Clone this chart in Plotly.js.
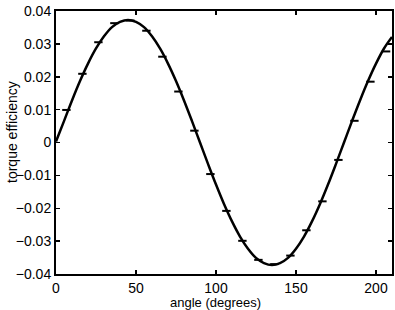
<!DOCTYPE html>
<html>
<head>
<meta charset="utf-8">
<script src="https://cdn.plot.ly/plotly-3.0.1.min.js"></script>
<style>html,body{margin:0;padding:0;background:#fff;}#chart{width:395px;height:310px;}</style>
</head>
<body>
<div id="chart"></div>
<script>
// measured points (angle in degrees, torque efficiency)
const pointAngles = [6.5, 16.5, 26.5, 36.5, 46.5, 56.5, 66.5, 76.5, 86.5, 96.5, 106.5,
                     116.5, 126.5, 136.5, 146.5, 156.5, 166.5, 176.5, 186.5, 196.5, 206.3];
const pointValues = [0.0099, 0.0209, 0.0305, 0.0363, 0.0371, 0.0340, 0.0261, 0.0155, 0.0036, -0.0096, -0.0208,
                     -0.0299, -0.0357, -0.0370, -0.0344, -0.0267, -0.0179, -0.0053, 0.0066, 0.0185, 0.0277];

// fitted curve read at 5-degree steps
const curveAngles = [0, 5, 10, 15, 20, 25, 30, 35, 40, 45, 50, 55, 60, 65, 70, 75, 80, 85, 90,
                     95, 100, 105, 110, 115, 120, 125, 130, 135, 140, 145, 150, 155, 160, 165, 170, 175, 180,
                     185, 190, 195, 200, 205, 210];
const curveValues = [0.0003, 0.0065, 0.0128, 0.0187, 0.0240, 0.0286, 0.0323, 0.0351, 0.0367, 0.0373, 0.0367, 0.0351, 0.0323, 0.0286, 0.0240, 0.0187, 0.0128, 0.0065, 0.0000,
                     -0.0065, -0.0128, -0.0187, -0.0240, -0.0286, -0.0323, -0.0351, -0.0367, -0.0373, -0.0367, -0.0351, -0.0323, -0.0286, -0.0240, -0.0187, -0.0128, -0.0065, 0.0000,
                     0.0065, 0.0128, 0.0187, 0.0240, 0.0286, 0.0321];

const xTicks = [0, 50, 100, 150, 200];
const yTicks = [-0.04, -0.03, -0.02, -0.01, 0, 0.01, 0.02, 0.03, 0.04];
const yTickText = ['\u22120.04', '\u22120.03', '\u22120.02', '\u22120.01', '0', '0.01', '0.02', '0.03', '0.04'];
const xTitle = 'angle (degrees)';
const yTitle = 'torque efficiency';

const font = 'Liberation Sans, Arial, Helvetica, sans-serif';

const traces = [
  {
    x: curveAngles, y: curveValues, type: 'scatter', mode: 'lines',
    line: {color: '#000', width: 2.5, shape: 'spline', smoothing: 1.0},
    hoverinfo: 'skip', showlegend: false
  },
  {
    x: pointAngles, y: pointValues, type: 'scatter', mode: 'markers',
    marker: {symbol: 'line-ew', size: 6, color: '#000', line: {color: '#000', width: 2}},
    showlegend: false
  }
];

const layout = {
  width: 395, height: 310,
  margin: {l: 56, r: 3, t: 11, b: 36, pad: 0},
  paper_bgcolor: '#fff', plot_bgcolor: '#fff',
  font: {family: font, size: 14, color: '#000'},
  showlegend: false,
  xaxis: {
    range: [0, 210], tickvals: xTicks, ticktext: xTicks.map(String),
    ticks: 'inside', ticklen: 4, tickwidth: 1.5, tickcolor: '#000',
    showline: true, linecolor: '#000', linewidth: 2, mirror: 'ticks',
    showgrid: false, zeroline: false,
    tickfont: {family: font, size: 14, color: '#000'}
  },
  yaxis: {
    range: [-0.04, 0.04], tickvals: yTicks, ticktext: yTickText,
    ticks: 'inside', ticklen: 4, tickwidth: 1.5, tickcolor: '#000',
    showline: true, linecolor: '#000', linewidth: 2, mirror: 'ticks',
    showgrid: false, zeroline: false,
    tickfont: {family: font, size: 14, color: '#000'}
  },
  annotations: [
    {text: xTitle, xref: 'paper', yref: 'paper', x: 0.476, y: -0.110,
     xanchor: 'center', yanchor: 'middle', showarrow: false,
     font: {family: font, size: 13, color: '#000'}},
    {text: yTitle, xref: 'paper', yref: 'paper', x: -0.131, y: 0.54,
     xanchor: 'center', yanchor: 'middle', showarrow: false, textangle: -90,
     font: {family: font, size: 14, color: '#000'}}
  ]
};

Plotly.newPlot('chart', traces, layout, {displayModeBar: false, staticPlot: true});
</script>
</body>
</html>
